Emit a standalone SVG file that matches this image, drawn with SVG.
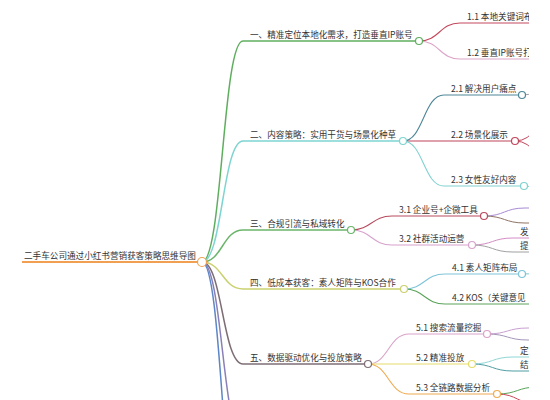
<svg xmlns="http://www.w3.org/2000/svg" width="550" height="400" viewBox="0 0 550 400">
<defs>
<clipPath id="clip"><rect x="0" y="0" width="529" height="400"/></clipPath>
<style>
text{font-family:"Noto Sans CJK SC","Noto Sans",sans-serif;font-size:8.6px;fill:#333}
.k{fill:none}
.a{stroke-width:1.5}
.b{stroke-width:1.1}
.c{stroke-width:1}
circle{fill:#fff;stroke-width:1.2}
</style>
</defs>
<rect width="550" height="400" fill="#fff"/>
<g clip-path="url(#clip)">
<g id="connectors" class="k">
<path class="a" stroke="#5fae5f" d="M202,262 C222.5,262 222.5,41 243,41"/>
<path class="a" stroke="#7dd4d0" d="M202,262 C222.5,262 222.5,141 243,141"/>
<path class="a" stroke="#6ab56a" d="M202,262 C222.5,262 222.5,230 243,230"/>
<path class="a" stroke="#c9d06e" d="M202,262 C222.5,262 222.5,289 243,289"/>
<path class="a" stroke="#7d6e75" d="M202,262 C222.5,262 222.5,364 243,364"/>
<path class="a" stroke="#8a7fb8" d="M202,262 C222.5,262 222.5,440 243,440"/>
<path class="a" stroke="#5d86c7" d="M202,262 C222.5,262 222.5,540 243,540"/>
<path class="b" stroke="#c4485c" d="M419,41 C439.5,41 439.5,23 460,23"/>
<path class="b" stroke="#dca5c8" d="M419,41 C439.5,41 439.5,59 460,59"/>
<path class="b" stroke="#4e8798" d="M403,141 C423.5,141 423.5,95 444,95"/>
<path class="b" stroke="#c0465c" d="M403,141 C423.5,141 423.5,141 444,141"/>
<path class="b" stroke="#80d2d0" d="M403,141 C423.5,141 423.5,186 444,186"/>
<path class="c" stroke="#9aa0b0" d="M522,95 C542.5,95 542.5,80 563,80"/>
<path class="c" stroke="#c0465c" d="M515,141 C535.5,141 535.5,118 556,118"/>
<path class="c" stroke="#c0465c" d="M515,141 C535.5,141 535.5,164 556,164"/>
<path class="c" stroke="#80d2d0" d="M524,186 C544.5,186 544.5,200 565,200"/>
<path class="b" stroke="#b84a5e" d="M351,230 C371.5,230 371.5,216 392,216"/>
<path class="b" stroke="#d8a2cc" d="M351,230 C371.5,230 371.5,245 392,245"/>
<path class="c" stroke="#a88ad4" d="M484,216 C504.5,216 504.5,208 525,208 L560,208"/>
<path class="c" stroke="#8f7463" d="M484,216 C504.5,216 504.5,223 525,223 L560,223"/>
<path class="c" stroke="#d58cc4" d="M472,245 C492.5,245 492.5,238 513,238"/>
<path class="c" stroke="#a0a0a0" d="M472,245 C492.5,245 492.5,252 513,252"/>
<path class="b" stroke="#7ec4d8" d="M404,289 C424.5,289 424.5,274 445,274"/>
<path class="b" stroke="#5aa35a" d="M404,289 C424.5,289 424.5,304 445,304"/>
<path class="c" stroke="#7ec4d8" d="M522,274 C542.5,274 542.5,270 563,270"/>
<path class="b" stroke="#d9a3c9" d="M368,364 C388.5,364 388.5,334 409,334"/>
<path class="b" stroke="#e5dc6a" d="M368,364 C388.5,364 388.5,364 409,364"/>
<path class="b" stroke="#f0aa50" d="M368,364 C388.5,364 388.5,394 409,394"/>
<path class="c" stroke="#c9a0d0" d="M487,334 C507.5,334 507.5,328 528,328 L560,328"/>
<path class="c" stroke="#a596b8" d="M487,334 C507.5,334 507.5,340 528,340 L560,340"/>
<path class="c" stroke="#8fd6d6" d="M472,364 C492.5,364 492.5,357 513,357"/>
<path class="c" stroke="#4f9ea3" d="M472,364 C492.5,364 492.5,371 513,371"/>
<path class="c" stroke="#5aa35a" d="M497,394 C517.5,394 517.5,387 538,387"/>
<path class="c" stroke="#c8485a" d="M497,394 C517.5,394 517.5,404 538,404"/>
</g>
<g id="root"><line x1="22" y1="262" x2="202" y2="262" stroke="#f0a050" stroke-width="2"/><circle cx="202" cy="262" r="4.5" stroke="#f0a050"/><text x="24" y="259">二手车公司通过小红书营销获客策略思维导图</text></g>
<g id="n1"><line x1="243" y1="41" x2="419" y2="41" stroke="#5fae5f" stroke-width="1.5"/><circle cx="419" cy="41" r="3.5" stroke="#5fae5f"/><text x="250" y="38">一、精准定位本地化需求，打造垂直IP账号</text></g>
<g id="n1-1"><line x1="460" y1="23" x2="560" y2="23" stroke="#c4485c" stroke-width="1.1"/><text x="467" y="20">1.1 本地关键词布</text></g>
<g id="n1-2"><line x1="460" y1="59" x2="560" y2="59" stroke="#dca5c8" stroke-width="1.1"/><text x="467" y="56">1.2 垂直IP账号打</text></g>
<g id="n2"><line x1="243" y1="141" x2="403" y2="141" stroke="#7dd4d0" stroke-width="1.5"/><circle cx="403" cy="141" r="3.5" stroke="#7dd4d0"/><text x="250" y="138">二、内容策略：实用干货与场景化种草</text></g>
<g id="n2-1"><line x1="444" y1="95" x2="522" y2="95" stroke="#4e8798" stroke-width="1.1"/><circle cx="522" cy="95" r="3.5" stroke="#4e8798"/><text x="451" y="92">2.1 解决用户痛点</text></g>
<g id="n2-2"><line x1="444" y1="141" x2="515" y2="141" stroke="#c0465c" stroke-width="1.1"/><circle cx="515" cy="141" r="3.5" stroke="#c0465c"/><text x="451" y="138">2.2 场景化展示</text></g>
<g id="n2-3"><line x1="444" y1="186" x2="524" y2="186" stroke="#80d2d0" stroke-width="1.1"/><circle cx="524" cy="186" r="3.5" stroke="#80d2d0"/><text x="451" y="183">2.3 女性友好内容</text></g>
<g id="n3"><line x1="243" y1="230" x2="351" y2="230" stroke="#6ab56a" stroke-width="1.5"/><circle cx="351" cy="230" r="3.5" stroke="#6ab56a"/><text x="250" y="227">三、合规引流与私域转化</text></g>
<g id="n3-1"><line x1="392" y1="216" x2="484" y2="216" stroke="#b84a5e" stroke-width="1.1"/><circle cx="484" cy="216" r="3.5" stroke="#b84a5e"/><text x="399" y="213">3.1 企业号+企微工具</text></g>
<g id="n3-2"><line x1="392" y1="245" x2="472" y2="245" stroke="#d8a2cc" stroke-width="1.1"/><circle cx="472" cy="245" r="3.5" stroke="#d8a2cc"/><text x="399" y="242">3.2 社群活动运营</text></g>
<g id="n3-2-1"><line x1="513" y1="238" x2="560" y2="238" stroke="#d58cc4" stroke-width="1"/><text x="520" y="235">发</text></g>
<g id="n3-2-2"><line x1="513" y1="252" x2="560" y2="252" stroke="#a0a0a0" stroke-width="1"/><text x="520" y="249">提</text></g>
<g id="n4"><line x1="243" y1="289" x2="404" y2="289" stroke="#c9d06e" stroke-width="1.5"/><circle cx="404" cy="289" r="3.5" stroke="#c9d06e"/><text x="250" y="286">四、低成本获客：素人矩阵与KOS合作</text></g>
<g id="n4-1"><line x1="445" y1="274" x2="522" y2="274" stroke="#7ec4d8" stroke-width="1.1"/><circle cx="522" cy="274" r="3.5" stroke="#7ec4d8"/><text x="452" y="271">4.1 素人矩阵布局</text></g>
<g id="n4-2"><line x1="445" y1="304" x2="560" y2="304" stroke="#5aa35a" stroke-width="1.1"/><text x="452" y="301">4.2 KOS（关键意见</text></g>
<g id="n5"><line x1="243" y1="364" x2="368" y2="364" stroke="#7d6e75" stroke-width="1.5"/><circle cx="368" cy="364" r="3.5" stroke="#7d6e75"/><text x="250" y="361">五、数据驱动优化与投放策略</text></g>
<g id="n5-1"><line x1="409" y1="334" x2="487" y2="334" stroke="#d9a3c9" stroke-width="1.1"/><circle cx="487" cy="334" r="3.5" stroke="#d9a3c9"/><text x="416" y="331">5.1 搜索流量挖掘</text></g>
<g id="n5-2"><line x1="409" y1="364" x2="472" y2="364" stroke="#e5dc6a" stroke-width="1.1"/><circle cx="472" cy="364" r="3.5" stroke="#e5dc6a"/><text x="416" y="361">5.2 精准投放</text></g>
<g id="n5-2-1"><line x1="513" y1="357" x2="560" y2="357" stroke="#8fd6d6" stroke-width="1"/><text x="520" y="354">定</text></g>
<g id="n5-2-2"><line x1="513" y1="371" x2="560" y2="371" stroke="#4f9ea3" stroke-width="1"/><text x="520" y="368">结</text></g>
<g id="n5-3"><line x1="409" y1="394" x2="497" y2="394" stroke="#f0aa50" stroke-width="1.1"/><circle cx="497" cy="394" r="3.5" stroke="#f0aa50"/><text x="416" y="391">5.3 全链路数据分析</text></g>
</g>
</svg>
